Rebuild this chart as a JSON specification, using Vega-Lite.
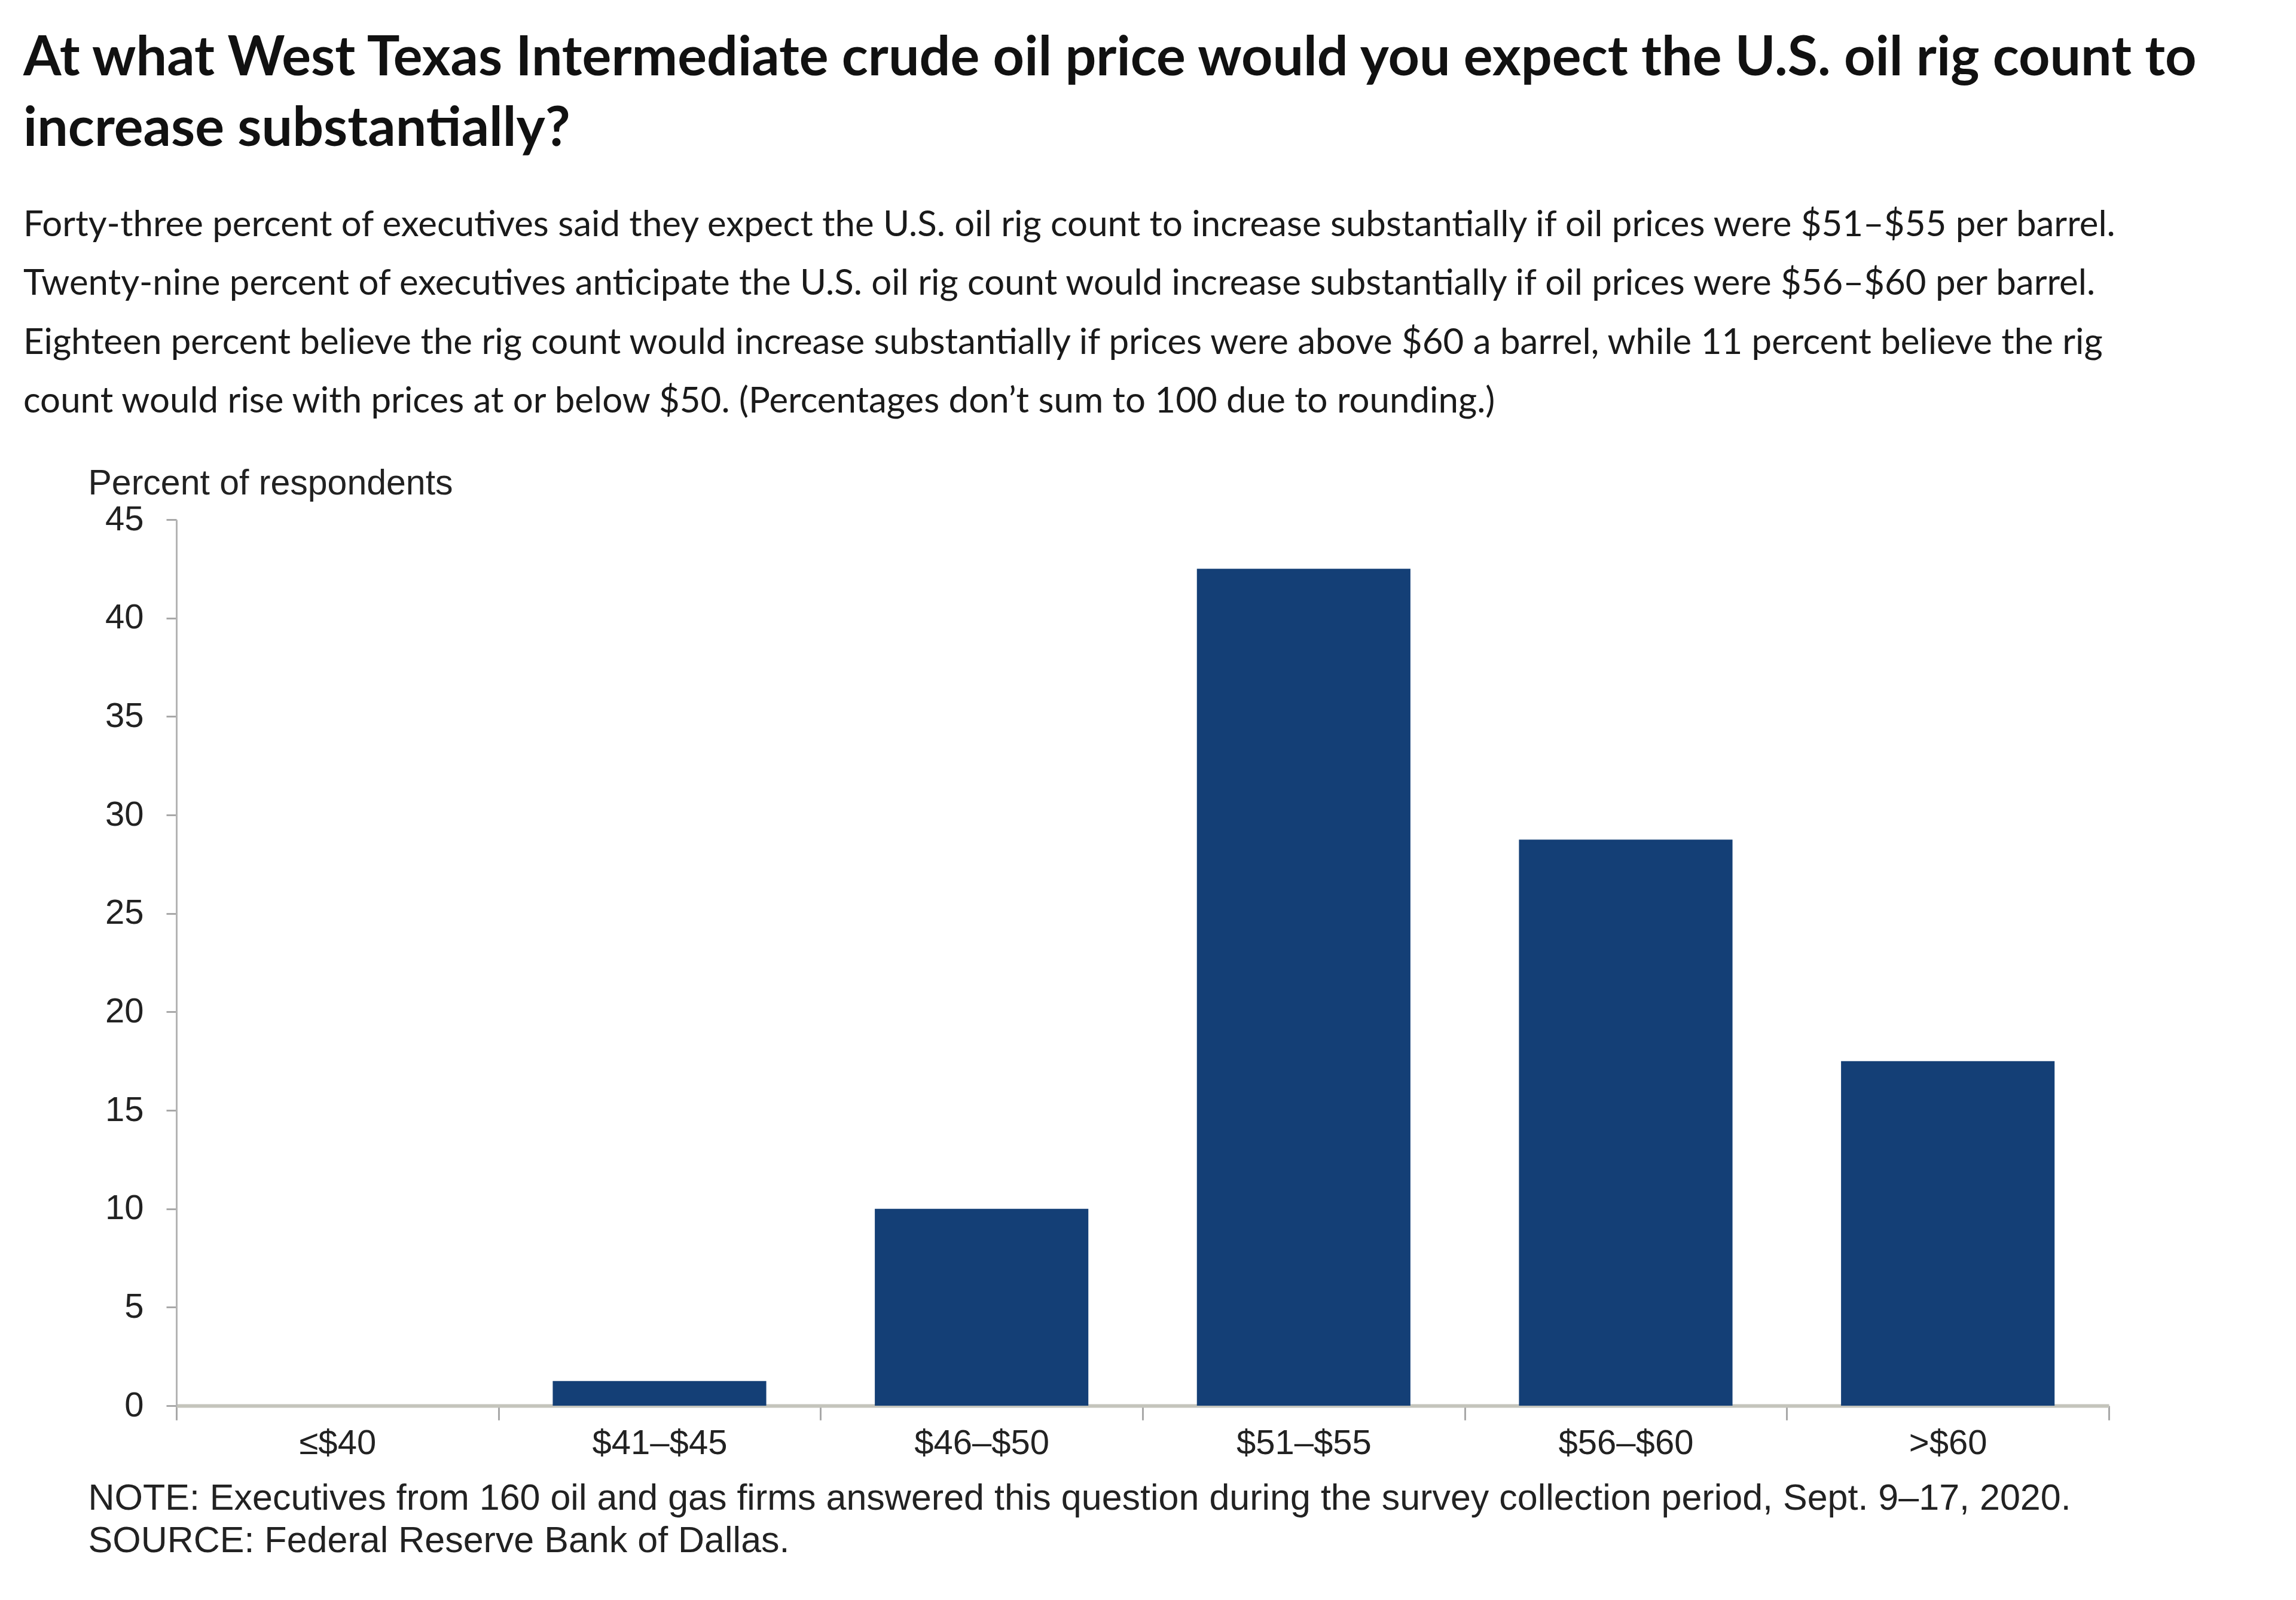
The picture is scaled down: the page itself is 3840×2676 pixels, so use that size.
{
  "$schema": "https://vega.github.io/schema/vega-lite/v6.json",
  "width": 3232,
  "height": 1482,
  "autosize": {"type": "none"},
  "padding": {"left": 295, "top": 869, "right": 313, "bottom": 325},
  "background": "white",
  "title": {
    "text": ["At what West Texas Intermediate crude oil price would you expect the U.S. oil rig count to", "increase substantially?"],
    "subtitle": [
      "Forty-three percent of executives said they expect the U.S. oil rig count to increase substantially if oil prices were $51–$55 per barrel.",
      "Twenty-nine percent of executives anticipate the U.S. oil rig count would increase substantially if oil prices were $56–$60 per barrel.",
      "Eighteen percent believe the rig count would increase substantially if prices were above $60 a barrel, while 11 percent believe the rig",
      "count would rise with prices at or below $50. (Percentages don’t sum to 100 due to rounding.)"
    ],
    "anchor": "start",
    "frame": "group",
    "dx": -256,
    "offset": 76,
    "font": "Lato",
    "fontSize": 91.5,
    "fontWeight": "bold",
    "color": "#111111",
    "lineHeight": 118,
    "subtitleFont": "Lato",
    "subtitleFontSize": 60,
    "subtitleFontWeight": "normal",
    "subtitleColor": "#1a1a1a",
    "subtitleLineHeight": 98.5,
    "subtitlePadding": 84
  },
  "data": {
    "values": [
      {"price": "≤$40", "pct": 0},
      {"price": "$41–$45", "pct": 1.25},
      {"price": "$46–$50", "pct": 10},
      {"price": "$51–$55", "pct": 42.5},
      {"price": "$56–$60", "pct": 28.75},
      {"price": ">$60", "pct": 17.5}
    ]
  },
  "mark": {"type": "bar", "color": "#143f76", "width": {"band": 0.663}},
  "encoding": {
    "x": {
      "field": "price",
      "type": "nominal",
      "sort": null,
      "scale": {"paddingInner": 0, "paddingOuter": 0},
      "axis": {
        "tickBand": "extent",
        "labelAngle": 0,
        "labelLimit": 0,
        "labelFont": "Liberation Sans",
        "labelFontSize": 58,
        "labelColor": "#222222",
        "labelPadding": 10,
        "tickSize": 24,
        "tickColor": "#a8a8a8",
        "tickWidth": 3,
        "domainColor": "#c4c4bc",
        "domainWidth": 6,
        "grid": false,
        "title": [
          "NOTE: Executives from 160 oil and gas firms answered this question during the survey collection period, Sept. 9–17, 2020.",
          "SOURCE: Federal Reserve Bank of Dallas."
        ],
        "titleFont": "Liberation Sans",
        "titleFontSize": 61,
        "titleFontWeight": "normal",
        "titleColor": "#222222",
        "titleAlign": "left",
        "titleBaseline": "alphabetic",
        "titleLineHeight": 71,
        "titleLimit": 0,
        "titleX": -148,
        "titleY": 173
      }
    },
    "y": {
      "field": "pct",
      "type": "quantitative",
      "scale": {"domain": [0, 45], "nice": false},
      "axis": {
        "values": [0, 5, 10, 15, 20, 25, 30, 35, 40, 45],
        "grid": false,
        "labelFont": "Liberation Sans",
        "labelFontSize": 58,
        "labelColor": "#222222",
        "labelPadding": 38,
        "tickSize": 17,
        "tickColor": "#a8a8a8",
        "tickWidth": 3,
        "domainColor": "#b4b4b4",
        "domainWidth": 3,
        "title": "Percent of respondents",
        "titleFont": "Liberation Sans",
        "titleFontSize": 59,
        "titleFontWeight": "normal",
        "titleColor": "#222222",
        "titleAngle": 0,
        "titleAlign": "left",
        "titleBaseline": "middle",
        "titleX": -148,
        "titleY": -61
      }
    }
  },
  "config": {"view": {"stroke": null}}
}
